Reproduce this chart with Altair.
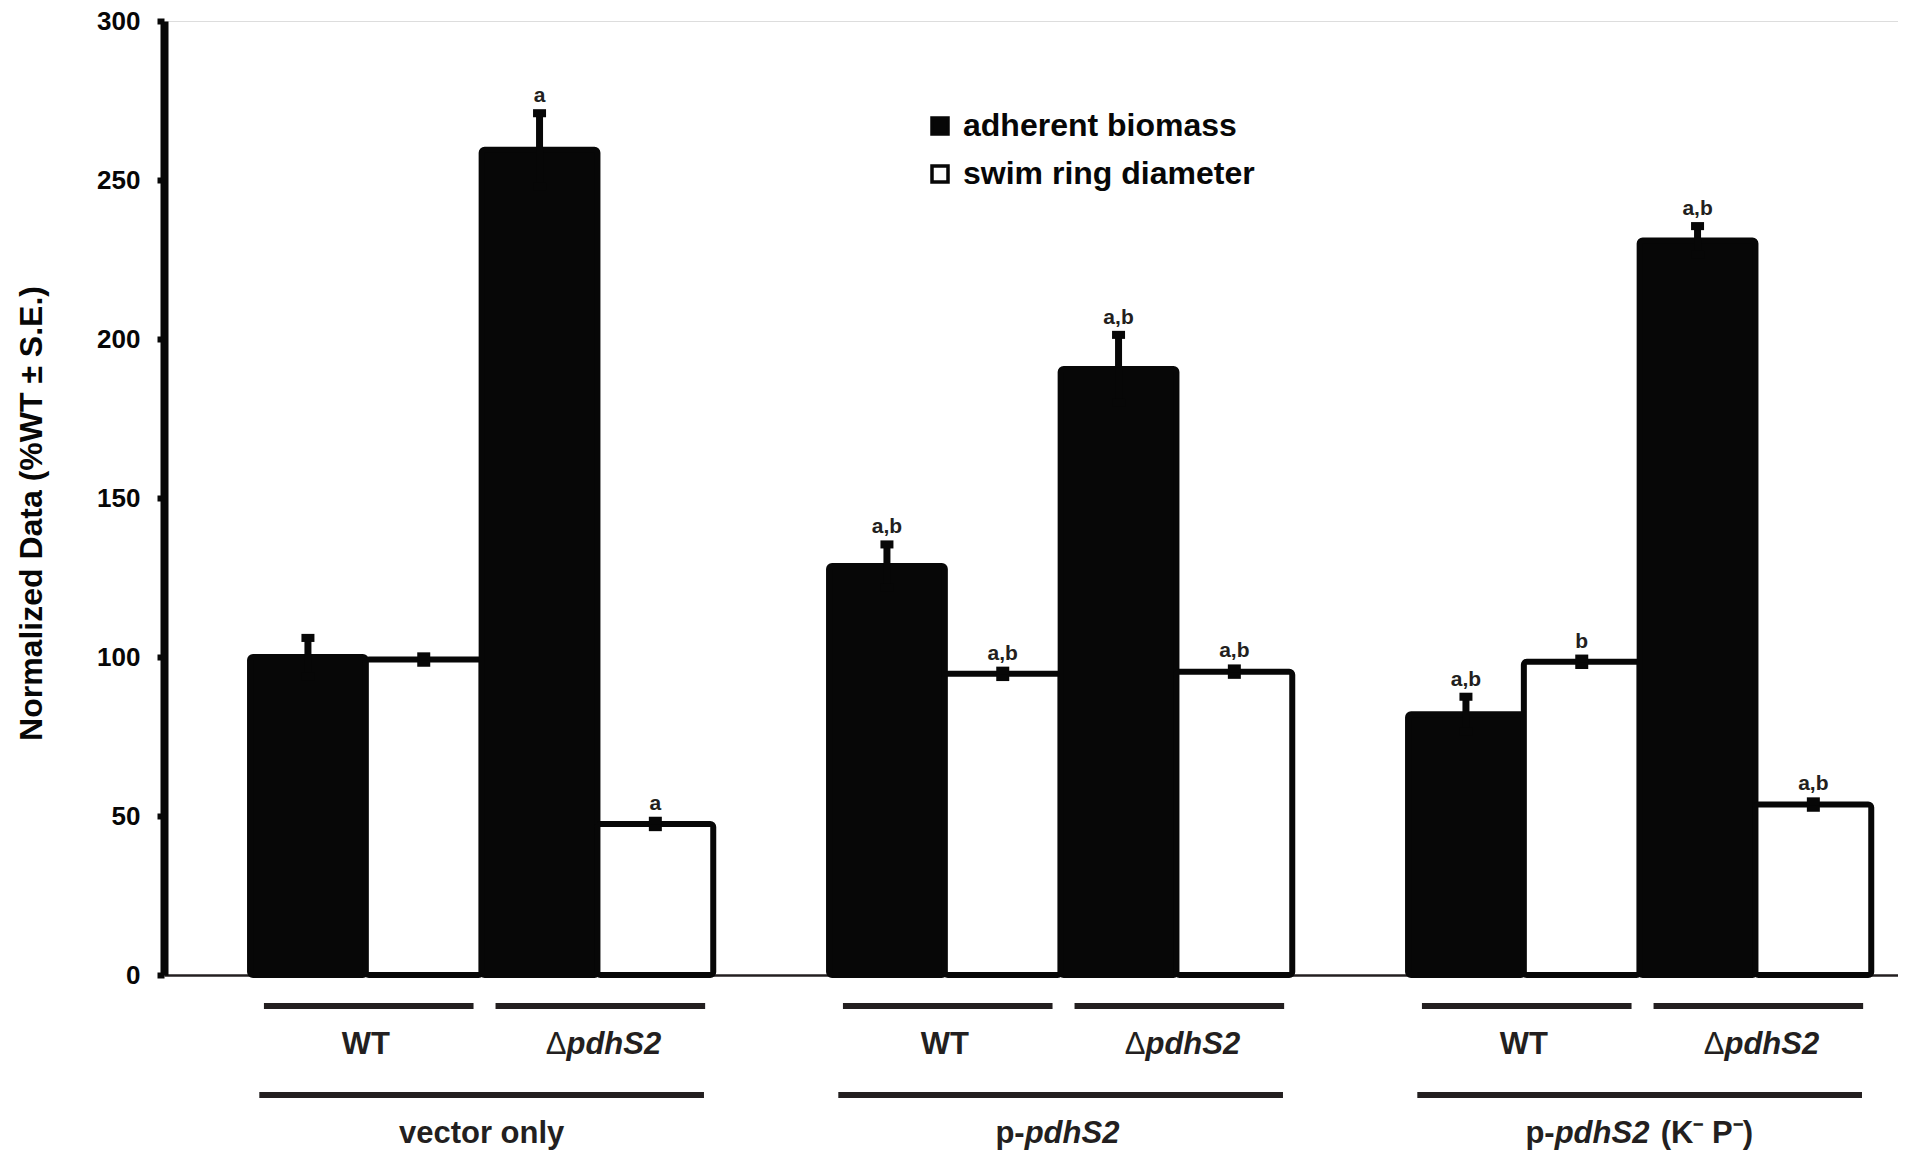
import altair as alt
import pandas as pd

# ---------------- data ----------------
group_plain = ["vector only", "p-", "p-"]
group_italic = ["", "pdhS2", "pdhS2"]
group_suffix = ["", "", "(K\u207b P\u207b)"]
strain_plain = ["WT", "\u0394"]
strain_italic = ["", "pdhS2"]
measures = ["adherent biomass", "swim ring diameter"]

# per group: [WT, ΔpdhS2]
biomass = [[100.0, 259.5], [128.6, 190.6], [82.0, 231.0]]
biomass_se = [[6.0, 11.5], [6.8, 10.7], [5.5, 4.5]]
swim = [[99.2, 47.5], [94.7, 95.4], [98.5, 53.6]]
swim_se = [[1.0, 1.0], [1.0, 1.0], [1.0, 1.0]]
biomass_sig = [["", "a"], ["a,b", "a,b"], ["a,b", "a,b"]]
swim_sig = [["", "a"], ["a,b", "a,b"], ["b", "a,b"]]
y_ticks = [0, 50, 100, 150, 200, 250, 300]

# ---------------- layout ----------------
FONT = "Liberation Sans"
INK = "#070707"
GREY = "#231f20"
W, H = 1734, 954
XMIN, XMAX = -0.743, 14.231
U = W / (XMAX - XMIN)  # px per bar slot

rows = []
for g in range(3):
    for s in range(2):
        for m, (vals, ses, sigs) in enumerate(
            [(biomass, biomass_se, biomass_sig), (swim, swim_se, swim_sig)]
        ):
            slot = g * 5 + s * 2 + m
            v, e = vals[g][s], ses[g][s]
            rows.append(dict(measure=measures[m], x0=slot, x1=slot + 1, xc=slot + 0.5,
                             v=v, lo=v - e, hi=v + e, zero=0, sig=sigs[g][s]))
bars = pd.DataFrame(rows)
caps = pd.concat([bars.assign(cy=bars.lo), bars.assign(cy=bars.hi)], ignore_index=True)

pair = []
for g in range(3):
    for s in range(2):
        start = g * 5 + s * 2
        pair.append(dict(a=start + 0.12, b=start + 2 - 0.07, c=start + 1,
                         j=start + 1 - 31 / U, plain=strain_plain[s], italic=strain_italic[s]))
pair = pd.DataFrame(pair)

grp_junction_px = [0, -36, -85]
grp_suffix_px = [0, 0, 21]
grp = []
for g in range(3):
    start = g * 5
    grp.append(dict(a=start + 0.08, b=start + 4 - 0.08, c=start + 2,
                    j=start + 2 + grp_junction_px[g] / U, k=start + 2 + grp_suffix_px[g] / U,
                    plain=group_plain[g], italic=group_italic[g], suffix=group_suffix[g]))
grp = pd.DataFrame(grp)

xscale = alt.Scale(domain=[XMIN, XMAX], nice=False, zero=False)
xaxis = alt.Axis(labels=False, ticks=False, grid=False, title=None,
                 domainColor=GREY, domainWidth=2.5)
yscale = alt.Scale(domain=[0, 300], nice=False)
yaxis = alt.Axis(values=y_ticks, title="Normalized Data (%WT \u00b1 S.E.)", grid=False,
                 labelFont=FONT, labelFontSize=26, labelFontWeight="bold", labelColor=INK,
                 labelPadding=17, tickSize=7, tickWidth=6, tickColor=INK,
                 domainColor=INK, domainWidth=8,
                 titleFont=FONT, titleFontSize=32, titleFontWeight="bold", titleColor=INK,
                 titleAngle=-90, titleX=-133, titleY=492, titleAlign="center",
                 titleBaseline="middle")


def X(f):
    return alt.X(f, type="quantitative", scale=xscale, axis=xaxis)


def Y(f):
    return alt.Y(f, type="quantitative", scale=yscale, axis=yaxis)


bar_layer = alt.Chart(bars).mark_rect(stroke=INK, strokeWidth=6, cornerRadius=3).encode(
    x=X("x0"), x2="x1", y=Y("v"), y2="zero",
    fill=alt.Fill("measure:N", scale=alt.Scale(domain=measures, range=[INK, "#ffffff"]),
                  legend=alt.Legend(title=None, orient="none", legendX=760, legendY=89,
                                    symbolType="square", symbolSize=256,
                                    symbolStrokeColor=INK, symbolStrokeWidth=3.5,
                                    labelFont=FONT, labelFontSize=32, labelFontWeight="bold",
                                    labelColor=INK, labelOffset=7, rowPadding=16, padding=0,
                                    labelLimit=600)),
)

err_layer = alt.Chart(bars).mark_rule(color=INK, strokeWidth=7).encode(
    x=X("xc"), y=Y("lo"), y2="hi")

cap_layer = alt.Chart(caps).mark_point(
    shape="M-1,-0.62H1V0.62H-1Z", size=169, filled=True, color=INK, opacity=1, strokeWidth=0
).encode(x=X("xc"), y=Y("cy"))

sig_layer = alt.Chart(bars).mark_text(
    font=FONT, fontSize=21, fontWeight="bold", color=GREY, baseline="alphabetic", dy=-11
).encode(x=X("xc"), y=Y("hi"), text="sig:N")

# ---- bottom annotation rows ----
SUB_LINE_Y, SUB_TEXT_Y, GRP_LINE_Y, GRP_TEXT_Y = 985, 1033, 1074, 1122

pair_lines = alt.Chart(pair).mark_rule(color=GREY, strokeWidth=6).encode(
    x=X("a"), x2="b", y=alt.value(SUB_LINE_Y))
grp_lines = alt.Chart(grp).mark_rule(color=GREY, strokeWidth=6).encode(
    x=X("a"), x2="b", y=alt.value(GRP_LINE_Y))

txt = dict(font=FONT, fontSize=31, color=GREY, baseline="alphabetic")

wt_text = alt.Chart(pair[pair.italic == ""]).mark_text(
    align="center", fontWeight="bold", **txt).encode(x=X("c"), y=alt.value(SUB_TEXT_Y), text="plain:N")
delta_text = alt.Chart(pair[pair.italic != ""]).mark_text(
    align="right", fontWeight="normal", **txt).encode(x=X("j"), y=alt.value(SUB_TEXT_Y), text="plain:N")
delta_it = alt.Chart(pair[pair.italic != ""]).mark_text(
    align="left", fontWeight="bold", fontStyle="italic", **txt).encode(
    x=X("j"), y=alt.value(SUB_TEXT_Y), text="italic:N")

g_center = alt.Chart(grp[grp.italic == ""]).mark_text(
    align="center", fontWeight="bold", **txt).encode(x=X("c"), y=alt.value(GRP_TEXT_Y), text="plain:N")
g_plain = alt.Chart(grp[grp.italic != ""]).mark_text(
    align="right", fontWeight="bold", **txt).encode(x=X("j"), y=alt.value(GRP_TEXT_Y), text="plain:N")
g_it = alt.Chart(grp[grp.italic != ""]).mark_text(
    align="left", fontWeight="bold", fontStyle="italic", **txt).encode(
    x=X("j"), y=alt.value(GRP_TEXT_Y), text="italic:N")
g_suf = alt.Chart(grp[grp.suffix != ""]).mark_text(
    align="left", fontWeight="bold", **txt).encode(x=X("k"), y=alt.value(GRP_TEXT_Y), text="suffix:N")

chart = alt.layer(
    bar_layer, err_layer, cap_layer, sig_layer,
    pair_lines, grp_lines, wt_text, delta_text, delta_it, g_center, g_plain, g_it, g_suf,
).properties(
    width=W, height=H,
    autosize=alt.AutoSizeParams(type="none"),
    padding={"left": 156, "top": 13, "right": 0, "bottom": 176},
    background="white",
).configure_view(stroke=None).configure(font=FONT)

chart.save("out.html", embed_options={"renderer": "svg", "actions": False})
